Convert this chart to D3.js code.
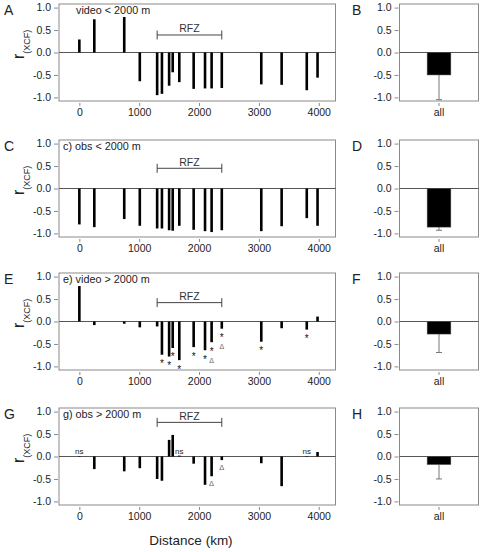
<!DOCTYPE html>
<html><head><meta charset="utf-8">
<script src="https://cdn.jsdelivr.net/npm/d3@7"></script>
<style>
body{margin:0;background:#fff;}
svg{display:block;font-family:"Liberation Sans",Arial,Helvetica,sans-serif;}
</style></head><body>
<svg id="chart" width="481" height="552"></svg>
<script>
// ---------- data ----------
const distances = [0, 250, 750, 1010, 1300, 1380, 1500, 1560, 1670, 1910, 2100, 2210, 2380, 3040, 3380, 3800, 3980];
const videoShallow = [0.29, 0.74, 0.79, -0.64, -0.95, -0.92, -0.74, -0.44, -0.66, -0.81, -0.80, -0.80, -0.79, -0.71, -0.72, -0.84, -0.56];
const obsShallow   = [-0.80, -0.86, -0.68, -0.83, -0.89, -0.89, -0.93, -0.94, -0.83, -0.92, -0.95, -0.97, -0.93, -0.95, -0.84, -0.66, -0.83];
const videoDeep    = [0.79, -0.08, -0.05, -0.13, -0.11, -0.74, -0.78, -0.59, -0.86, -0.57, -0.64, -0.46, -0.16, -0.45, -0.15, -0.18, 0.11];
const obsDeep      = [0.01, -0.28, -0.33, -0.26, -0.50, -0.54, 0.37, 0.48, 0.02, -0.16, -0.63, -0.44, -0.08, -0.15, -0.66, 0.01, 0.10];
const starsVideoDeep = ["", "", "", "", "", "*", "*", "*", "*", "*", "*", "*", "*", "*", "", "*", ""];
const deltaVideoDeep = ["", "", "", "", "", "", "", "", "", "", "", "Δ", "Δ", "", "", "", ""];
const nsObsDeep      = ["ns", "", "", "", "", "", "", "", "ns", "", "", "", "", "", "", "ns", ""];
const deltaObsDeep   = ["", "", "", "", "", "", "", "", "", "", "", "Δ", "Δ", "", "", "", ""];
const allCategory = ["all"];
const allMeans = [-0.50, -0.86, -0.28, -0.18];
const allLower = [-1.05, -0.93, -0.69, -0.50];
const yTicks = [-1.0, -0.5, 0.0, 0.5, 1.0];
const xTicks = [0, 1000, 2000, 3000, 4000];
const rfzRange = [1300, 2380];
const rfzLevels = [0.39, 0.45, 0.42, 0.76];
const panelTitles = ["video < 2000 m", "c) obs < 2000 m", "e) video > 2000 m", "g) obs > 2000 m"];
const leftLetters = ["A", "C", "E", "G"];
const rightLetters = ["B", "D", "F", "H"];
const seriesList = [videoShallow, obsShallow, videoDeep, obsDeep];

// ---------- layout ----------
const svg = d3.select("#chart");
const tops = [4, 140, 273, 408];
const H = 97;
const L = {x0: 59, x1: 335.5};
const R = {x0: 399.5, x1: 478.5};
const boxCol = "#8a8a8a", zeroCol = "#555", txtCol = "#222";

const x = d3.scaleLinear().domain([-340, 4280]).range([L.x0, L.x1]);
const xb = d3.scaleBand().domain(allCategory).range([R.x0, R.x1]).paddingInner(0.7).paddingOuter(0.35);

function yAxis(g, y, xpos){
  g.attr("transform", `translate(${xpos},0)`)
   .call(d3.axisLeft(y).tickValues(yTicks).tickFormat(d => d.toFixed(1)).tickSize(4).tickPadding(3).tickSizeOuter(0));
  g.select(".domain").remove();
  g.selectAll(".tick line").attr("stroke", boxCol);
  g.selectAll(".tick text").attr("fill", txtCol).attr("font-size", 10.5).attr("font-family", null);
}

seriesList.forEach((vals, p) => {
  const top = tops[p], bottom = top + H;
  const y = d3.scaleLinear().domain([-1.08, 1.08]).range([bottom, top]);
  const g = svg.append("g");

  // left panel box
  g.append("rect").attr("x", L.x0).attr("y", top).attr("width", L.x1 - L.x0).attr("height", H)
    .attr("fill", "none").attr("stroke", boxCol).attr("stroke-width", 1);
  g.append("line").attr("x1", L.x0).attr("x2", L.x1).attr("y1", y(0)).attr("y2", y(0))
    .attr("stroke", zeroCol).attr("stroke-width", 1);

  // axes
  yAxis(g.append("g"), y, L.x0 - 1);
  const xa = g.append("g").attr("transform", `translate(0,${bottom + 2})`)
    .call(d3.axisBottom(x).tickValues(xTicks).tickFormat(d3.format("d")).tickSize(3).tickPadding(3).tickSizeOuter(0));
  xa.select(".domain").remove();
  xa.selectAll(".tick line").attr("stroke", boxCol);
  xa.selectAll(".tick text").attr("fill", txtCol).attr("font-size", 10.5).attr("font-family", null);

  // bars
  const bw = 2.6;
  g.selectAll(".bar").data(vals).join("rect")
    .attr("x", (d, i) => x(distances[i]) - bw / 2)
    .attr("y", d => Math.min(y(d), y(0)))
    .attr("width", bw)
    .attr("height", d => Math.abs(y(d) - y(0)))
    .attr("fill", "#000");

  // RFZ bracket
  const ry = y(rfzLevels[p]);
  const rb = g.append("g").attr("stroke", "#444").attr("stroke-width", 1);
  rb.append("line").attr("x1", x(rfzRange[0])).attr("x2", x(rfzRange[1])).attr("y1", ry).attr("y2", ry);
  rfzRange.forEach(v => rb.append("line").attr("x1", x(v)).attr("x2", x(v)).attr("y1", ry - 4.5).attr("y2", ry + 4.5));
  g.append("text").attr("x", x((rfzRange[0] + rfzRange[1]) / 2)).attr("y", ry - 2.5)
    .attr("text-anchor", "middle").attr("font-size", 10.5).attr("fill", "#333").text("RFZ");

  // panel title
  g.append("text").attr("x", p === 0 ? 76 : 63).attr("y", top + 9.5)
    .attr("font-size", 10.8).attr("fill", txtCol).text(panelTitles[p]);

  // letter
  g.append("text").attr("x", 4).attr("y", top + 11).attr("font-size", 14).attr("fill", txtCol).text(leftLetters[p]);

  // y label r(XCF)
  const yl = g.append("text").attr("transform", `translate(24,${top + 55}) rotate(-90)`)
    .attr("fill", txtCol);
  yl.append("tspan").attr("font-size", 16).text("r");
  yl.append("tspan").attr("font-size", 9).attr("dy", 5.5).text("(XCF)");

  // significance marks
  if (p === 2) {
    g.selectAll(".star").data(starsVideoDeep).join("text")
      .attr("x", (d, i) => x(distances[i]))
      .attr("y", (d, i) => y(vals[i]) + 12.5)
      .attr("text-anchor", "middle").attr("font-size", 10).attr("fill", "#111").text(d => d);
    g.selectAll(".delta").data(deltaVideoDeep).join("text")
      .attr("x", (d, i) => x(distances[i]))
      .attr("y", (d, i) => y(vals[i]) + 20.5)
      .attr("text-anchor", "middle").attr("font-size", 7).attr("fill", "#666").text(d => d);
  }
  if (p === 3) {
    g.selectAll(".ns").data(nsObsDeep).join("text")
      .attr("x", (d, i) => x(distances[i]))
      .attr("y", y(0) - 3)
      .attr("text-anchor", "middle").attr("font-size", 8).attr("fill", "#222").text(d => d);
    g.selectAll(".delta").data(deltaObsDeep).join("text")
      .attr("x", (d, i) => x(distances[i]))
      .attr("y", (d, i) => y(vals[i]) + 9.5)
      .attr("text-anchor", "middle").attr("font-size", 7.5).attr("fill", "#666").text(d => d);
  }

  // ---- right panel ----
  const gr = svg.append("g");
  gr.append("rect").attr("x", R.x0).attr("y", top).attr("width", R.x1 - R.x0).attr("height", H)
    .attr("fill", "none").attr("stroke", boxCol).attr("stroke-width", 1);
  gr.append("line").attr("x1", R.x0).attr("x2", R.x1).attr("y1", y(0)).attr("y2", y(0))
    .attr("stroke", zeroCol).attr("stroke-width", 1);
  yAxis(gr.append("g"), y, R.x0 - 1);
  const xra = gr.append("g").attr("transform", `translate(0,${bottom + 2})`)
    .call(d3.axisBottom(xb).tickSize(3).tickPadding(3).tickSizeOuter(0));
  xra.select(".domain").remove();
  xra.selectAll(".tick line").attr("stroke", boxCol);
  xra.selectAll(".tick text").attr("fill", txtCol).attr("font-size", 10.5).attr("font-family", null);

  const cx = xb("all") + xb.bandwidth() / 2;
  // error bar
  gr.append("line").attr("x1", cx).attr("x2", cx).attr("y1", y(allMeans[p])).attr("y2", y(allLower[p]))
    .attr("stroke", "#777").attr("stroke-width", 1);
  gr.append("line").attr("x1", cx - 3).attr("x2", cx + 3).attr("y1", y(allLower[p])).attr("y2", y(allLower[p]))
    .attr("stroke", "#777").attr("stroke-width", 1);
  gr.append("rect").attr("x", xb("all")).attr("width", xb.bandwidth())
    .attr("y", Math.min(y(allMeans[p]), y(0))).attr("height", Math.abs(y(allMeans[p]) - y(0)))
    .attr("fill", "#000").attr("stroke", "#555").attr("stroke-width", 0.5);

  gr.append("text").attr("x", 352).attr("y", top + 11).attr("font-size", 14).attr("fill", txtCol).text(rightLetters[p]);
});

svg.append("text").attr("x", 191).attr("y", 545).attr("text-anchor", "middle")
  .attr("font-size", 13.5).attr("fill", txtCol).text("Distance (km)");
</script>
</body></html>
